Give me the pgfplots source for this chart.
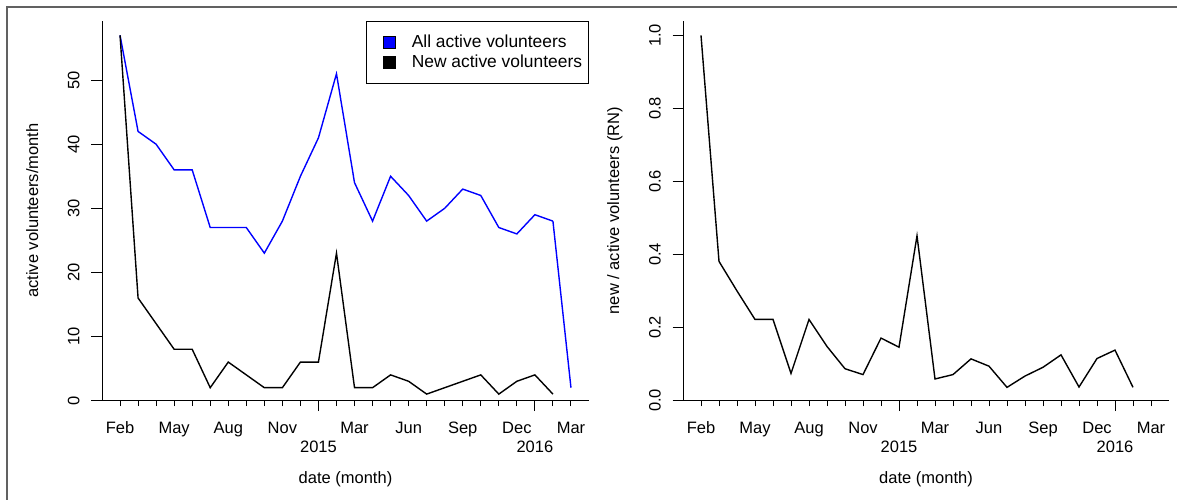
\documentclass[border=0pt]{standalone}
\usepackage{fontspec}
\setmainfont{Liberation Sans}
\usepackage{pgfplots}
\pgfplotsset{compat=1.18}
\pgfplotstableread{
idx all new ratio
0 57 57 1.000
1 42 16 0.381
2 40 12 0.300
3 36 8 0.222
4 36 8 0.222
5 27 2 0.074
6 27 6 0.222
7 27 4 0.148
8 23 2 0.087
9 28 2 0.071
10 35 6 0.171
11 41 6 0.146
12 51 23 0.451
13 34 2 0.059
14 28 2 0.071
15 35 4 0.114
16 32 3 0.094
17 28 1 0.036
18 30 2 0.067
19 33 3 0.091
20 32 4 0.125
21 27 1 0.037
22 26 3 0.115
23 29 4 0.138
24 28 1 0.036
}\datatab
\newcommand{\rfont}{\fontsize{16.5}{19.8}\selectfont}
\pgfplotsset{
  rplot/.style={
    scale only axis, height=379.8pt,
    xmin=-1, xmax=26,
    axis lines*=left,
    axis line style={line width=1pt, black},
    tick align=outside,
    every tick/.style={black, line width=1pt},
    major tick length=10.5pt,
    minor tick length=5.5pt,
    xtick={11,23}, xticklabels={2015,2016},
    minor xtick={0,...,25},
    extra x ticks={0,3,6,9,13,16,19,22,25},
    extra x tick labels={Feb,May,Aug,Nov,Mar,Jun,Sep,Dec,Mar},
    extra x tick style={major tick length=5.5pt, xticklabel style={yshift=14pt}},
    xticklabel style={anchor=base, inner sep=0pt, yshift=-41pt},
    yticklabel style={rotate=90, anchor=base, inner sep=0pt},
    yticklabel shift=12pt,
    tick label style={font=\rfont},
    every axis y label/.style={at={(axis description cs:-0.1314,0.5)}, rotate=90, anchor=base, font=\rfont},
    every axis x label/.style={at={(axis description cs:0.5,0)}, anchor=base, yshift=-82.5pt, font=\rfont},
    xlabel={date (month)},
  }
}
\begin{document}
\begin{tikzpicture}[x=1pt,y=1pt]
\useasboundingbox (0pt,0pt) rectangle (1177pt,-499pt);
\begin{scope}
\clip (0pt,0pt) rectangle (1177pt,-499pt);
\draw[color=black!62, line width=1.3pt] (7pt,-7pt) rectangle (1195pt,-515pt);
\end{scope}
\begin{axis}[rplot, width=487pt, at={(102pt,-400.5pt)}, anchor=south west,
  ymin=0, ymax=59.28,
  ytick={0,10,20,30,40,50}, yticklabels={0,10,20,30,40,50},
  ylabel={active volunteers/month},
  legend style={at={(rel axis cs:1,1)}, anchor=north east, draw=black, line width=0.9pt,
    font=\fontsize{17.4}{20.8}\selectfont, inner xsep=4.5pt, inner ysep=12pt, row sep=2pt},
  legend cell align=left,
  legend image code/.code={\filldraw[#1, draw=black, line width=0.5pt, solid] (0pt,-6pt) rectangle (12pt,6pt); \path[draw=none, fill=none] (-11.5pt,0pt) -- (27pt,0pt);},
]
\addplot[color=blue, line width=1.4pt] table[x=idx, y=all] {\datatab};
\addlegendentry{All active volunteers}
\addplot[color=black, line width=1.4pt] table[x=idx, y=new] {\datatab};
\addlegendentry{New active volunteers}
\addplot[color=blue, line width=1.4pt, forget plot] coordinates {(24,28) (25,2)};
\end{axis}
\begin{axis}[rplot, width=486pt, at={(683pt,-400.5pt)}, anchor=south west,
  ymin=0, ymax=1.04,
  ytick={0,0.2,0.4,0.6,0.8,1}, yticklabels={0.0,0.2,0.4,0.6,0.8,1.0},
  ylabel={new / active volunteers (RN)},
]
\addplot[color=black, line width=1.4pt] table[x=idx, y=ratio] {\datatab};
\end{axis}
\end{tikzpicture}
\end{document}
